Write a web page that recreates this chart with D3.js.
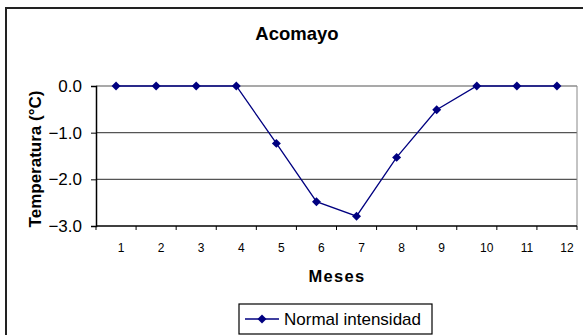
<!DOCTYPE html>
<html>
<head>
<meta charset="utf-8">
<script src="https://d3js.org/d3.v7.min.js"></script>
<style>
  body { margin: 0; background: #fff; }
  text { font-family: "Liberation Sans", Arial, sans-serif; fill: #000; }
</style>
</head>
<body>
<script>
// data
var months = ["1","2","3","4","5","6","7","8","9","10","11","12"];
var temps = [0, 0, 0, 0, -1.23, -2.48, -2.79, -1.53, -0.51, 0, 0, 0];
var yTicks = [0, -1, -2, -3];
var seriesName = "Normal intensidad";

var width = 583;
var height = 335;

var svg = d3.select("body").append("svg")
  .attr("width", width)
  .attr("height", height);

// outer chart frame (runs past the window on right/bottom)
svg.append("rect")
  .attr("x", 6).attr("y", 8)
  .attr("width", 620).attr("height", 400)
  .attr("fill", "none")
  .attr("stroke", "#222")
  .attr("stroke-width", 2);

var plotLeft = 96, plotRight = 577, plotTop = 86, plotBottom = 226;

var x = d3.scaleBand().domain(months).range([plotLeft, plotRight]);
var y = d3.scaleLinear().domain([-3, 0]).range([plotBottom, plotTop]);

// gridlines
svg.append("g")
  .selectAll("line")
  .data(yTicks.filter(function(d) { return d != -3; }))
  .enter().append("line")
  .attr("x1", plotLeft).attr("x2", plotRight)
  .attr("y1", function(d) { return y(d); })
  .attr("y2", function(d) { return y(d); })
  .attr("stroke", "#555")
  .attr("stroke-width", 1.2);

// right edge of plot area
svg.append("line")
  .attr("x1", plotRight).attr("x2", plotRight)
  .attr("y1", plotTop).attr("y2", plotBottom)
  .attr("stroke", "#888");

// y axis
var yAxis = svg.append("g")
  .attr("transform", "translate(" + plotLeft + ",0)")
  .call(d3.axisLeft(y).tickValues(yTicks).tickSize(5).tickPadding(9)
    .tickFormat(d3.format(".1f")));
yAxis.select(".domain").attr("stroke", "#000").attr("stroke-width", 1.5);
yAxis.selectAll(".tick line").attr("stroke", "#000");
yAxis.selectAll("text").style("font-size", "17px").attr("fill", "#000");

// x axis: ticks at category boundaries
var xAxis = svg.append("g")
  .attr("transform", "translate(0," + plotBottom + ")");
xAxis.append("line")
  .attr("x1", plotLeft).attr("x2", plotRight)
  .attr("stroke", "#000").attr("stroke-width", 1.5);
xAxis.selectAll(".tk")
  .data(months.concat(["end"]))
  .enter().append("line")
  .attr("class", "tk")
  .attr("x1", function(d, i) { return plotLeft + i * x.step(); })
  .attr("x2", function(d, i) { return plotLeft + i * x.step(); })
  .attr("y1", 0).attr("y2", 4)
  .attr("stroke", "#000");
xAxis.selectAll(".lbl")
  .data(months)
  .enter().append("text")
  .attr("class", "lbl")
  .attr("x", function(d) { return x(d) + x.bandwidth() / 2 + (d.length > 1 ? 10 : 5); })
  .attr("y", 26)
  .attr("text-anchor", "middle")
  .style("font-size", "12px")
  .text(function(d) { return d; });

// line + markers
var line = d3.line()
  .x(function(d, i) { return x(months[i]) + x.bandwidth() / 2; })
  .y(function(d) { return y(d); });

svg.append("path")
  .datum(temps)
  .attr("d", line)
  .attr("fill", "none")
  .attr("stroke", "#000080")
  .attr("stroke-width", 1.3);

var diamond = d3.symbol().type(d3.symbolSquare).size(40);
svg.append("g")
  .selectAll("path")
  .data(temps)
  .enter().append("path")
  .attr("d", diamond)
  .attr("transform", function(d, i) {
    return "translate(" + (x(months[i]) + x.bandwidth() / 2) + "," + y(d) + ") rotate(45)";
  })
  .attr("fill", "#000080");

// titles
svg.append("text")
  .attr("x", 297).attr("y", 40)
  .attr("text-anchor", "middle")
  .style("font-size", "18.5px")
  .style("font-weight", "bold")
  .text("Acomayo");

svg.append("text")
  .attr("transform", "translate(41,159) rotate(-90)")
  .attr("text-anchor", "middle")
  .style("font-size", "17px")
  .style("font-weight", "bold")
  .text("Temperatura (°C)");

svg.append("text")
  .attr("x", 337).attr("y", 282)
  .attr("text-anchor", "middle")
  .style("font-size", "16.5px")
  .style("font-weight", "bold")
  .style("letter-spacing", "1.3px")
  .text("Meses");

// legend
var legend = svg.append("g");
legend.append("rect")
  .attr("x", 239).attr("y", 304)
  .attr("width", 193).attr("height", 30)
  .attr("fill", "#fff")
  .attr("stroke", "#000")
  .attr("stroke-width", 1.2);
legend.append("line")
  .attr("x1", 245).attr("x2", 279)
  .attr("y1", 319).attr("y2", 319)
  .attr("stroke", "#000080")
  .attr("stroke-width", 1.3);
legend.append("path")
  .attr("d", diamond)
  .attr("transform", "translate(262,319) rotate(45)")
  .attr("fill", "#000080");
legend.append("text")
  .attr("x", 284).attr("y", 325)
  .style("font-size", "17px")
  .text(seriesName);
</script>
</body>
</html>
